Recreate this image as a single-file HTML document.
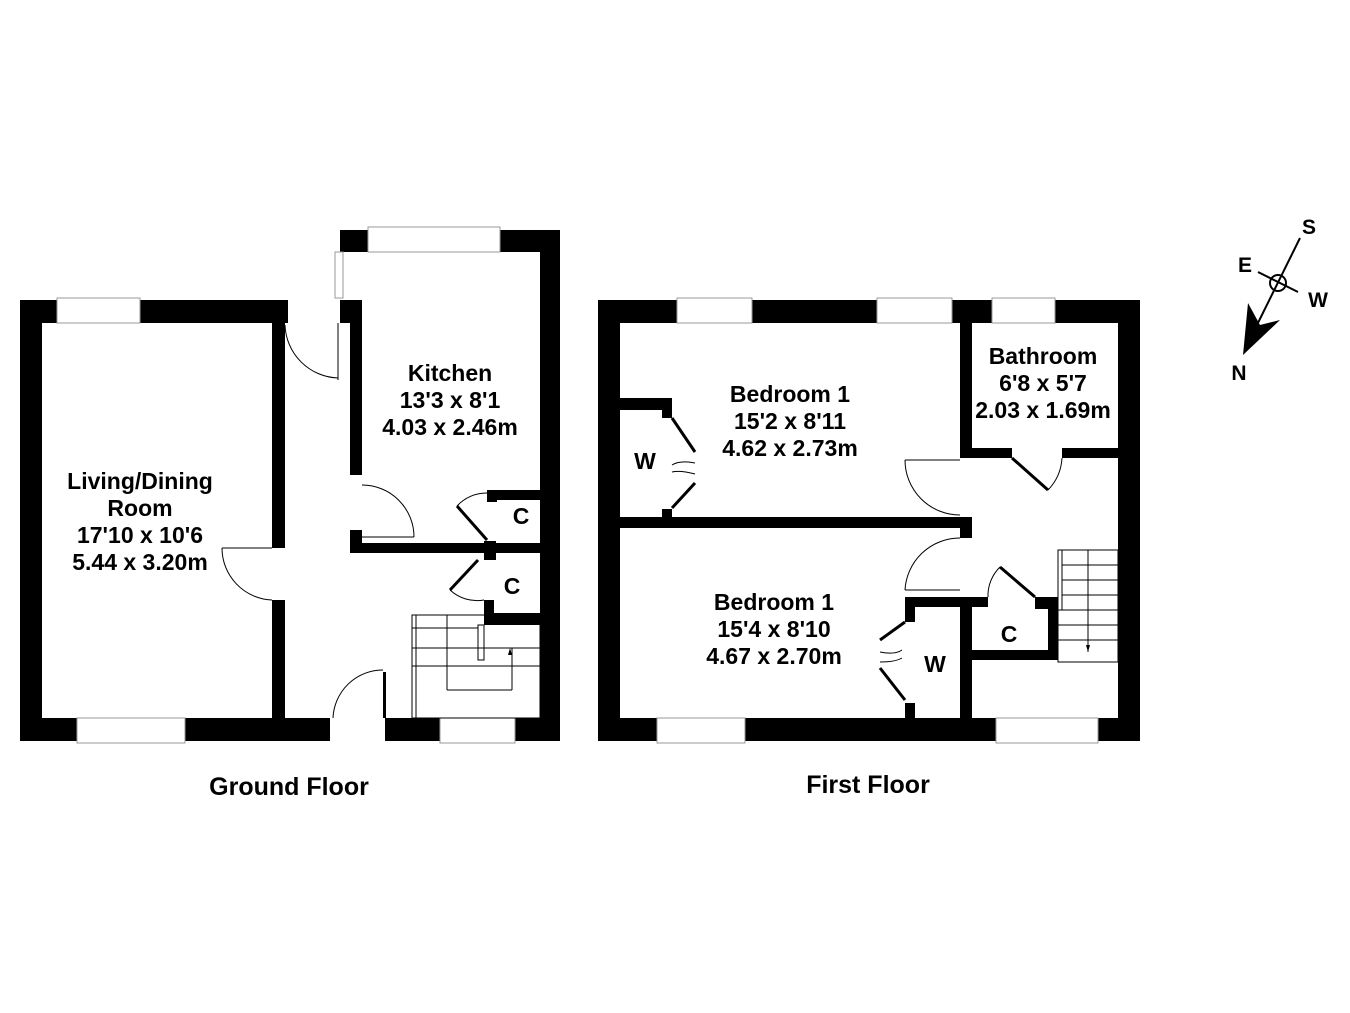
<!DOCTYPE html>
<html><head><meta charset="utf-8"><style>
html,body{margin:0;padding:0;background:#fff}
svg{display:block}
text{font-family:"Liberation Sans",Arial,sans-serif;font-weight:bold;fill:#000;text-anchor:middle}
</style></head><body>
<svg width="1350" height="1013" viewBox="0 0 1350 1013" xmlns="http://www.w3.org/2000/svg">
<rect width="1350" height="1013" fill="#fff"/>
<g fill="#000">
<rect x="20" y="300" width="22" height="441"/>
<rect x="20" y="300" width="268" height="23"/>
<rect x="272" y="323" width="13" height="225"/>
<rect x="272" y="600" width="13" height="120"/>
<rect x="20" y="718" width="310" height="23"/>
<rect x="340" y="230" width="220" height="22"/>
<rect x="340" y="300" width="22" height="23"/>
<rect x="350" y="300" width="12" height="175"/>
<rect x="540" y="230" width="20" height="511"/>
<rect x="350" y="543" width="190" height="10"/>
<rect x="350" y="530" width="12" height="23"/>
<rect x="487" y="490" width="53" height="10"/>
<rect x="487" y="490" width="10" height="12"/>
<rect x="484" y="541" width="12" height="19"/>
<rect x="484" y="600" width="10" height="25"/>
<rect x="484" y="613" width="56" height="12"/>
<rect x="385" y="718" width="175" height="23"/>
<rect x="383" y="672" width="3" height="46"/>
<rect x="598" y="300" width="542" height="23"/>
<rect x="598" y="300" width="22" height="441"/>
<rect x="1118" y="300" width="22" height="441"/>
<rect x="598" y="718" width="542" height="23"/>
<rect x="960" y="323" width="12" height="135"/>
<rect x="960" y="448" width="52" height="10"/>
<rect x="1062" y="448" width="78" height="10"/>
<rect x="620" y="517" width="352" height="11"/>
<rect x="960" y="517" width="12" height="21"/>
<rect x="620" y="398" width="52" height="12"/>
<rect x="662" y="398" width="10" height="20"/>
<rect x="662" y="509" width="10" height="10"/>
<rect x="905" y="597" width="83" height="10"/>
<rect x="905" y="597" width="10" height="25"/>
<rect x="905" y="703" width="10" height="15"/>
<rect x="960" y="597" width="12" height="121"/>
<rect x="1035" y="597" width="23" height="12"/>
<rect x="1048" y="597" width="10" height="63"/>
<rect x="960" y="650" width="98" height="10"/>
</g>
<g fill="#fff" stroke="#999" stroke-width="1">
<rect x="57" y="298" width="83" height="25"/>
<rect x="77" y="718" width="108" height="25"/>
<rect x="368" y="227" width="132" height="25"/>
<rect x="335" y="252" width="8" height="46"/>
<rect x="440" y="718" width="75" height="25"/>
<rect x="677" y="298" width="75" height="25"/>
<rect x="877" y="298" width="75" height="25"/>
<rect x="992" y="298" width="63" height="25"/>
<rect x="657" y="718" width="88" height="25"/>
<rect x="996" y="718" width="102" height="25"/>
</g>
<g fill="none" stroke="#000" stroke-width="1">
<path d="M285 325 A55 55 0 0 0 338 378"/><line x1="338" y1="380" x2="338" y2="323"/>
<path d="M222 548 A52 52 0 0 0 272 600"/><line x1="222" y1="548" x2="272" y2="548"/>
<path d="M362 485 A52 52 0 0 1 414 537"/><line x1="362" y1="537" x2="414" y2="537"/>
<path d="M333 718 A50 50 0 0 1 383 670"/>
<path d="M457 506 A40 40 0 0 1 487 493"/>
<path d="M450 590 A40 40 0 0 0 484 600"/>
<path d="M905 460 A55 55 0 0 0 960 515"/><line x1="905" y1="460" x2="960" y2="460"/>
<path d="M905 590 A55 55 0 0 1 960 538"/><line x1="905" y1="590" x2="960" y2="590"/>
<path d="M1062 458 A50 50 0 0 1 1048 490"/>
<path d="M988 597 A40 40 0 0 1 1000 567"/>
<path d="M672 465 Q680 460 695 463 M672 472 Q680 470 695 474"/>
<path d="M902 650 Q895 655 880 652 M902 658 Q895 662 880 662"/>
<rect x="412" y="615" width="128" height="103"/>
<line x1="416" y1="615" x2="416" y2="718"/>
<line x1="412" y1="628" x2="478" y2="628"/><line x1="412" y1="648" x2="540" y2="648"/><line x1="412" y1="666" x2="540" y2="666"/>
<line x1="447" y1="615" x2="447" y2="690"/><line x1="447" y1="690" x2="512" y2="690"/><line x1="512" y1="690" x2="512" y2="648"/>
<rect x="478" y="625" width="6" height="35"/>
<rect x="1058" y="550" width="60" height="112"/>
<line x1="1062" y1="550" x2="1062" y2="610"/>
<line x1="1062" y1="565" x2="1118" y2="565"/><line x1="1062" y1="580" x2="1118" y2="580"/><line x1="1062" y1="595" x2="1118" y2="595"/><line x1="1058" y1="610" x2="1118" y2="610"/><line x1="1058" y1="625" x2="1118" y2="625"/><line x1="1058" y1="640" x2="1118" y2="640"/>
<line x1="1088" y1="550" x2="1088" y2="652"/>
</g>
<g stroke="#000" stroke-width="3" fill="none">
<line x1="457" y1="506" x2="487" y2="540"/>
<line x1="450" y1="590" x2="478" y2="560"/>
<line x1="672" y1="418" x2="695" y2="452"/><line x1="672" y1="508" x2="695" y2="483"/>
<line x1="880" y1="640" x2="905" y2="622"/><line x1="880" y1="668" x2="905" y2="700"/>
<line x1="1012" y1="458" x2="1048" y2="490"/>
<line x1="1000" y1="567" x2="1035" y2="597"/>
</g>
<path d="M510 648 L508 655 L512 655 Z M1088 652 L1086 645 L1090 645 Z" fill="#000"/>
<g stroke="#000" stroke-width="2" fill="none">
<line x1="1300" y1="238" x2="1253" y2="333"/>
<line x1="1258" y1="272" x2="1298" y2="292"/>
<circle cx="1278" cy="283" r="8"/>
</g>
<path d="M1248 303 L1243 355 L1280 320 L1260 325 Z" fill="#000"/>
<g font-size="21">
<text x="1309" y="234">S</text><text x="1245" y="272">E</text><text x="1318" y="307">W</text><text x="1239" y="380">N</text>
</g>
<g font-size="23">
<text x="140" y="489">Living/Dining</text><text x="140" y="516">Room</text><text x="140" y="543">17'10 x 10'6</text><text x="140" y="570">5.44 x 3.20m</text>
<text x="450" y="381">Kitchen</text><text x="450" y="408">13'3 x 8'1</text><text x="450" y="435">4.03 x 2.46m</text>
<text x="521" y="524">C</text><text x="512" y="594">C</text>
<text x="790" y="402">Bedroom 1</text><text x="790" y="429">15'2 x 8'11</text><text x="790" y="456">4.62 x 2.73m</text>
<text x="1043" y="364">Bathroom</text><text x="1043" y="391">6'8 x 5'7</text><text x="1043" y="418">2.03 x 1.69m</text>
<text x="645" y="469">W</text>
<text x="774" y="610">Bedroom 1</text><text x="774" y="637">15'4 x 8'10</text><text x="774" y="664">4.67 x 2.70m</text>
<text x="935" y="672">W</text><text x="1009" y="642">C</text>
</g>
<g font-size="25">
<text x="289" y="795">Ground Floor</text><text x="868" y="793">First Floor</text>
</g>
</svg>
</body></html>
